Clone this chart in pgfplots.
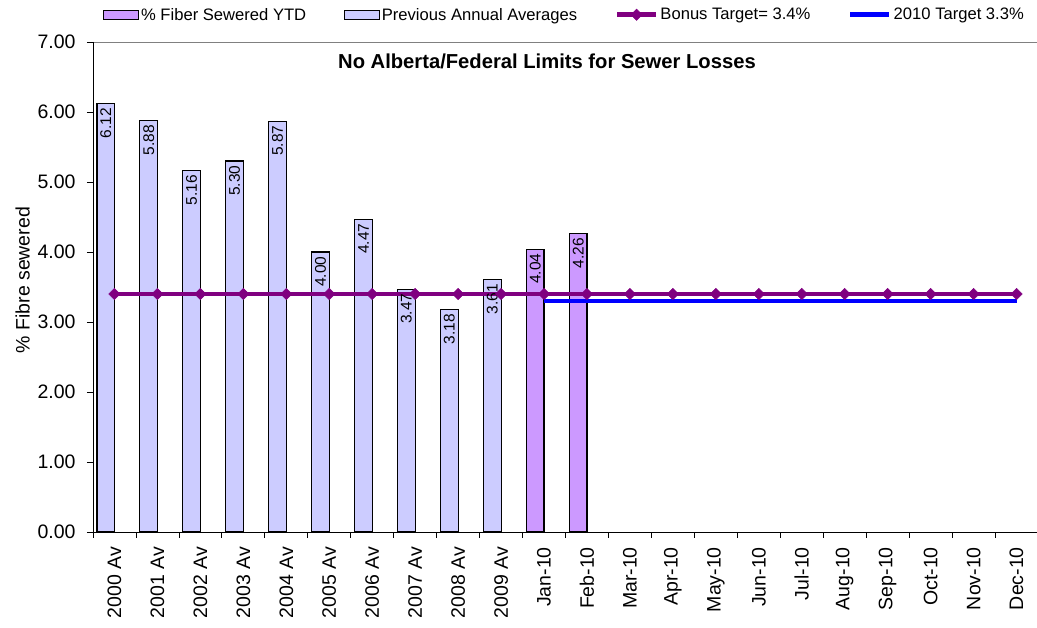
\documentclass[border=0pt]{standalone}
\usepackage{fontspec}
\setmainfont{Liberation Sans}
\usepackage{pgfplots}
\pgfplotsset{compat=1.18}
\definecolor{prevbar}{HTML}{CCCCFF}
\definecolor{ytdbar}{HTML}{CC99FF}
\definecolor{bonus}{HTML}{800080}
\definecolor{tgt}{HTML}{0000FF}
\begin{document}
\begin{tikzpicture}
\useasboundingbox (0,0) rectangle (1037pt,628pt);
\begin{axis}[
  at={(93pt,96pt)}, anchor=south west,
  width=945pt, height=490pt, scale only axis,
  xmin=-0.5, xmax=21.5, ymin=0, ymax=7,
  /pgf/number format/assume math mode=true,
  axis line style={draw=gray, line width=0.8pt},
  tick pos=left, tick align=outside, major tick length=6pt,
  tick style={black, line width=0.8pt},
  ytick={0,1,2,3,4,5,6,7},
  yticklabel style={/pgf/number format/fixed, /pgf/number format/fixed zerofill, /pgf/number format/precision=2},
  yticklabel shift=8pt,
  xtick={-0.5,0.5,...,21.5},
  x tick label as interval=true,
  xticklabels={2000 Av,2001 Av,2002 Av,2003 Av,2004 Av,2005 Av,2006 Av,2007 Av,2008 Av,2009 Av,Jan-10,Feb-10,Mar-10,Apr-10,May-10,Jun-10,Jul-10,Aug-10,Sep-10,Oct-10,Nov-10,Dec-10},
  xticklabel style={rotate=90, anchor=east, inner sep=0pt},
  xticklabel shift=9pt,
  ticklabel style={font=\fontsize{19.5}{20}\selectfont},
  title={No Alberta/Federal Limits for Sewer Losses},
  title style={at={(axis description cs:0.4804,0.949)}, anchor=center, font=\bfseries\fontsize{20.2}{21}\selectfont},
  ylabel={\% Fibre sewered},
  ylabel style={at={(axis description cs:-0.0745,0.514)}, anchor=center, font=\fontsize{19.5}{20}\selectfont},
  legend style={draw=none, fill=none, inner sep=0pt, outer sep=0pt,
    at={(axis description cs:0.0106,1.0735)}, anchor=north west,
    font=\fontsize{16.6}{18}\selectfont,
    /tikz/every even column/.append style={column sep=35.5pt}},
  legend columns=4, legend cell align=left,
  after end axis/.code={
    \draw[black, line width=0.8pt] (rel axis cs:0,1) -- (rel axis cs:0,0) -- (rel axis cs:1,0);
  },
]
\addplot[ybar, bar width=17.5pt, bar shift=-8.75pt, fill=ytdbar, draw=black, line width=1.1pt,
  nodes near coords={\pgfmathprintnumber[fixed,fixed zerofill,precision=2]{\pgfplotspointmeta}},
  every node near coord/.append style={xshift=-8.75pt, rotate=90, anchor=east, inner xsep=4pt, inner ysep=0pt, font=\fontsize{15.5}{16}\selectfont, black},
  legend image code/.code={\draw[fill=ytdbar, draw=black, line width=1.1pt] (0pt,-4.5pt) rectangle (35pt,4.5pt);}]
  coordinates {(10,4.04) (11,4.26)};
\addlegendentry{\% Fiber Sewered YTD}
\addplot[ybar, bar width=17.5pt, bar shift=-8.75pt, fill=prevbar, draw=black, line width=1.1pt,
  nodes near coords={\pgfmathprintnumber[fixed,fixed zerofill,precision=2]{\pgfplotspointmeta}},
  every node near coord/.append style={xshift=-8.75pt, rotate=90, anchor=east, inner xsep=4pt, inner ysep=0pt, font=\fontsize{15.5}{16}\selectfont, black},
  legend image code/.code={\draw[fill=prevbar, draw=black, line width=1.1pt] (0pt,-4.5pt) rectangle (35pt,4.5pt);}]
  coordinates {(0,6.12) (1,5.88) (2,5.16) (3,5.30) (4,5.87) (5,4.00) (6,4.47) (7,3.47) (8,3.18) (9,3.61)};
\addlegendentry{Previous Annual Averages}
\addplot[bonus, line width=4.8pt, mark=square*, mark size=4pt,
  mark options={solid, rotate=45, line width=0.5pt, fill=bonus, draw=bonus},
  legend image code/.code={\draw[bonus, line width=4.8pt] (0pt,0pt) -- (39pt,0pt);
    \draw[bonus, line width=0.5pt, mark=square*, mark size=4pt, mark options={rotate=45, fill=bonus}] plot coordinates {(19.5pt,0pt)};}]
  coordinates {(0,3.4) (1,3.4) (2,3.4) (3,3.4) (4,3.4) (5,3.4) (6,3.4) (7,3.4) (8,3.4) (9,3.4) (10,3.4) (11,3.4) (12,3.4) (13,3.4) (14,3.4) (15,3.4) (16,3.4) (17,3.4) (18,3.4) (19,3.4) (20,3.4) (21,3.4)};
\addlegendentry{Bonus Target= 3.4\%}
\addplot[tgt, line width=4.8pt, mark=none,
  legend image code/.code={\draw[tgt, line width=4.8pt] (0pt,0pt) -- (39pt,0pt);}]
  coordinates {(10,3.3) (11,3.3) (12,3.3) (13,3.3) (14,3.3) (15,3.3) (16,3.3) (17,3.3) (18,3.3) (19,3.3) (20,3.3) (21,3.3)};
\addlegendentry{2010 Target 3.3\%}
\end{axis}
\end{tikzpicture}
\end{document}
